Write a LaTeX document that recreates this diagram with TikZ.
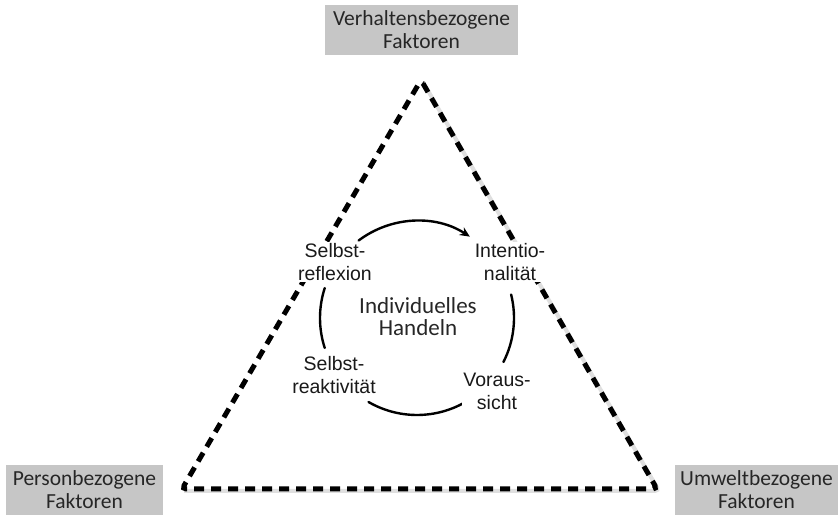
\documentclass[tikz,border=0pt]{standalone}
\usepackage{fontspec}
\setmainfont{Carlito}
\newfontfamily\labelfont{Liberation Sans}
\usetikzlibrary{arrows.meta,calc}
\tikzset{
  factorbox/.style={fill=gray!45!white, minimum height=50pt, inner sep=0pt,
    align=center, font=\fontsize{21.5}{23}\selectfont, text=black!85},
  cyclelabel/.style={align=center, inner sep=1.5pt, fill=white,
    font=\labelfont\fontsize{19.5}{23}\selectfont, text=black!90},
  centerlabel/.style={align=center, inner sep=0pt,
    font=\fontsize{23}{22}\selectfont, text=black!85},
  triedge/.style={line width=5pt, dash pattern=on 10pt off 7pt, rounded corners=4pt},
  trishadow/.style={line width=4pt, draw=gray!25, rounded corners=4pt},
  cyclearc/.style={line width=2.4pt, line cap=round},
}
\begin{document}
\begin{tikzpicture}[x=1pt,y=1pt]
\useasboundingbox (0,0) rectangle (838,516);

% factor boxes
\node[factorbox, minimum width=193pt] (verh) at (421.5,486) {Verhaltensbezogene\\Faktoren};
\node[factorbox, minimum width=157pt] (pers) at (84.5,26) {Personbezogene\\Faktoren};
\node[factorbox, minimum width=163pt] (umw) at (756.5,26) {Umweltbezogene\\Faktoren};

% triangle corners
\coordinate (tA) at (421,436);
\coordinate (tL) at (182,27);
\coordinate (tR) at (657,27);

% soft shadow and dashed triangle
\draw[trishadow] ($(tA)+(2,-2)$) -- ($(tR)+(2,-2)$) -- ($(tL)+(2,-2)$);
\draw[triedge] (tA) -- (tR) -- (tL) -- cycle;

% cycle of individual action
\coordinate (c) at (417,198);
\def\rad{97}
\draw[cyclearc, -{Stealth[length=10pt,width=9pt]}] ($(c)+(127:\rad)$) arc[start angle=127, end angle=57, radius=\rad];
\draw[cyclearc] ($(c)+(14:\rad)$) arc[start angle=14, end angle=-27, radius=\rad];
\draw[cyclearc] ($(c)+(-62:\rad)$) arc[start angle=-62, end angle=-120, radius=\rad];
\draw[cyclearc] ($(c)+(198:\rad)$) arc[start angle=198, end angle=162, radius=\rad];

% labels (white ground hides the triangle behind them)
\node[centerlabel] (handeln) at (418,199) {Individuelles\\Handeln};
\node[cyclelabel] (refl) at (335,254) {Selbst-\\reflexion};
\node[cyclelabel] (int) at (510,254) {Intentio-\\nalität};
\node[cyclelabel] (reak) at (334,141) {Selbst-\\reaktivität};
\node[cyclelabel] (vor) at (497,125) {Voraus-\\sicht};
\end{tikzpicture}
\end{document}
